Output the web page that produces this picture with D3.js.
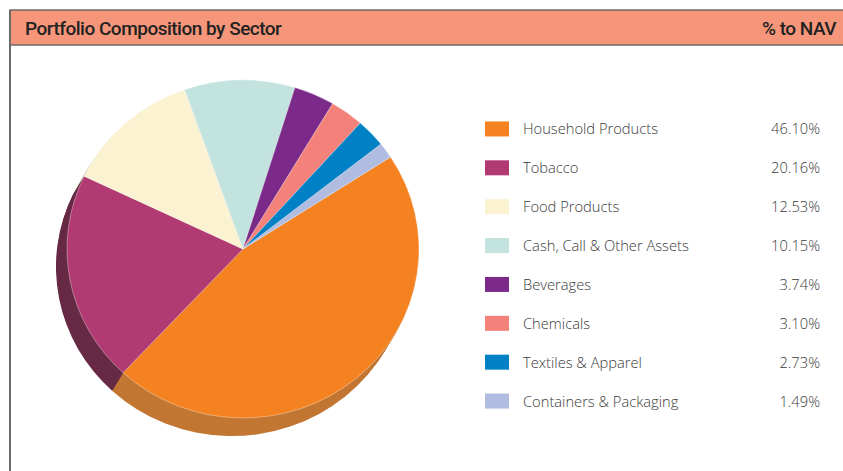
<!DOCTYPE html>
<html>
<head>
<meta charset="utf-8">
<script src="https://cdn.jsdelivr.net/npm/d3@7"></script>
<style>
  body { margin: 0; background: #fff; }
  svg { display: block; }
</style>
</head>
<body>
<svg class="s"></svg>
<script>
var sectors = ['Household Products', 'Tobacco', 'Food Products', 'Cash, Call & Other Assets',
               'Beverages', 'Chemicals', 'Textiles & Apparel', 'Containers & Packaging'];
var weights = [46.10, 20.16, 12.53, 10.15, 3.74, 3.10, 2.73, 1.49];
var labels = ['46.10%', '20.16%', '12.53%', '10.15%', '3.74%', '3.10%', '2.73%', '1.49%'];
var colors = ['#f58220', '#b23a72', '#faf2d0', '#c3e3df', '#7b2a8a', '#f4827a', '#0081c6', '#b0bde0'];
var sideColors = ['#c27733', '#672a45', '#cfc8a8', '#a0bcb8', '#5a1f66', '#c4665f', '#00609a', '#8d98b6'];

var w = 843;
var h = 471;

var svg = d3.select('.s')
            .attr('width', w)
            .attr('height', h);

// frame + header bar
svg.append('rect')
   .attr('x', 10).attr('y', 10)
   .attr('width', w).attr('height', 35)
   .attr('fill', '#f5967a')
   .attr('stroke', '#6b6b6b')
   .attr('stroke-width', 1.5);
svg.append('line')
   .attr('x1', 10).attr('x2', 10)
   .attr('y1', 10).attr('y2', h)
   .attr('stroke', '#6b6b6b')
   .attr('stroke-width', 2);

svg.append('text')
   .attr('x', 25).attr('y', 35)
   .attr('font-family', 'Roboto, sans-serif')
   .attr('font-weight', 500)
   .attr('font-size', 19)
   .attr('letter-spacing', -0.5)
   .attr('fill', '#222')
   .text('Portfolio Composition by Sector');
svg.append('text')
   .attr('x', 836).attr('y', 35)
   .attr('text-anchor', 'end')
   .attr('font-family', 'Roboto, sans-serif')
   .attr('font-weight', 500)
   .attr('font-size', 19)
   .attr('letter-spacing', -0.5)
   .attr('fill', '#222')
   .text('% to NAV');

// pie
var cx = 243, cy = 249, rx = 176, ry = 169;
var pie = d3.pie()
            .sort(null)
            .startAngle(57 * Math.PI / 180)
            .endAngle(57 * Math.PI / 180 + 2 * Math.PI);
var arcs = pie(weights);
var arc = d3.arc().innerRadius(0).outerRadius(rx);

var steps = d3.range(20, 0, -1).map(function(i){ return i / 20; });
var offX = -11, offY = 18;

steps.forEach(function(t){
  svg.append('g')
     .attr('transform', 'translate(' + (cx + offX * t) + ',' + (cy + offY * t) + ') scale(1,' + (ry / rx) + ')')
     .selectAll('path')
     .data(arcs)
     .enter()
     .append('path')
     .attr('d', arc)
     .attr('fill', function(d, i){ return sideColors[i]; });
});

svg.append('g')
   .attr('transform', 'translate(' + cx + ',' + cy + ') scale(1,' + (ry / rx) + ')')
   .selectAll('path')
   .data(arcs)
   .enter()
   .append('path')
   .attr('d', arc)
   .attr('fill', function(d, i){ return colors[i]; })
   .attr('stroke', 'rgba(255,255,255,0.6)')
   .attr('stroke-width', 0.6);

// legend
var y = d3.scaleBand()
          .domain(sectors)
          .range([110, 421]);

var rows = svg.append('g')
              .selectAll('g')
              .data(sectors)
              .enter()
              .append('g')
              .attr('transform', function(d){ return 'translate(0,' + (y(d) + y.bandwidth() / 2) + ')'; });

rows.append('rect')
    .attr('x', 485).attr('y', -8)
    .attr('width', 24).attr('height', 15)
    .attr('fill', function(d, i){ return colors[i]; });

rows.append('text')
    .attr('x', 523).attr('y', 5)
    .attr('font-family', '"Open Sans", "Noto Sans", sans-serif')
    .attr('font-weight', 300)
    .attr('font-size', 14.7)
    .attr('fill', '#3a3a3a')
    .text(function(d){ return d; });

rows.append('text')
    .attr('x', 820).attr('y', 5)
    .attr('text-anchor', 'end')
    .attr('font-family', '"Open Sans", "Noto Sans", sans-serif')
    .attr('font-weight', 300)
    .attr('font-size', 14.7)
    .attr('fill', '#3a3a3a')
    .text(function(d, i){ return labels[i]; });
</script>
</body>
</html>
